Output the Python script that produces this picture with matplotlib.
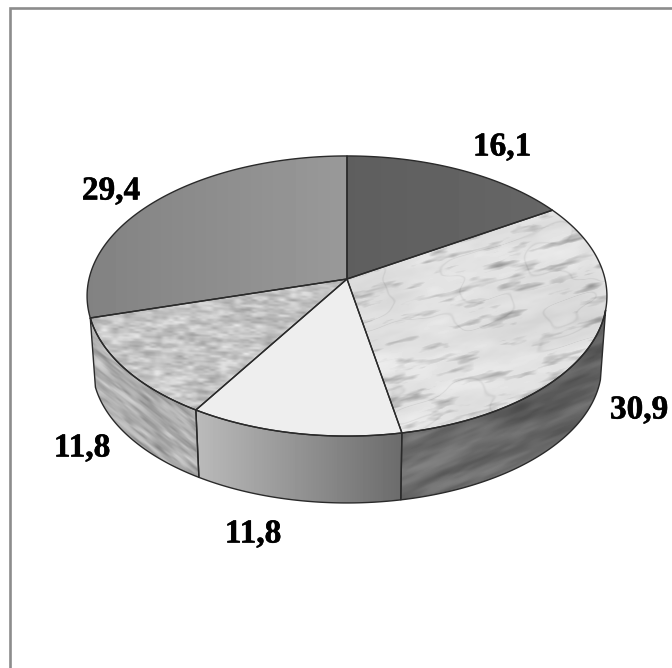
import numpy as np
import matplotlib
matplotlib.use('Agg')
import matplotlib.pyplot as plt
import matplotlib.patheffects as pe
from matplotlib.patches import Polygon

# -- chart data --
values = [16.1, 30.9, 11.8, 11.8, 29.4]
labels = ['16,1', '30,9', '11,8', '11,8', '29,4']
labelX = [502, 639, 253, 82, 111]
labelY = [147, 410, 534, 448, 191]

# -- geometry of the tilted disc, in pixels --
cx, cy = 347.0, 279.0
radX, radY = 258.0, 138.0
persp = 0.1215
depth = 70.0
shrink = 0.98
edgeColor = '#2a2a2a'

yGrid, xGrid = np.mgrid[0:668, 0:672].astype(float)


def project(theta, bottom=False):
    '''Angle clockwise from 12 o'clock to picture position, with perspective'''
    wVal = 1 + persp*np.cos(theta)
    xVal = radX*np.sin(theta)/wVal
    yVal = radY*np.cos(theta)/wVal
    if bottom:
        return cx + shrink*xVal, cy - shrink*yVal + depth
    return cx + xVal, cy - yVal


def top_poly(a0, a1):
    theta = np.linspace(a0, a1, 200)
    xVal, yVal = project(theta)
    return np.r_[[cx], xVal], np.r_[[cy], yVal]


def side_poly(a0, a1):
    theta = np.linspace(a0, a1, 200)
    xTop, yTop = project(theta)
    xBot, yBot = project(theta[::-1], bottom=True)
    return np.r_[xTop, xBot], np.r_[yTop, yBot]


def lattice(iVal, jVal, salt):
    '''Fixed pseudo values on an integer lattice, 0 to 1'''
    val = np.sin(iVal*12.9898 + jVal*78.233 + salt*37.719)*43758.5453
    return val - np.floor(val)


def mottle(rotDeg, cellAlong, cellAcross, salt=0.0, octaves=3):
    '''Smooth blotchy texture, roughly -1 to 1'''
    rot = np.deg2rad(rotDeg)
    uu = xGrid*np.cos(rot) + yGrid*np.sin(rot)
    vv = -xGrid*np.sin(rot) + yGrid*np.cos(rot)
    tex = np.zeros_like(uu)
    amp = 1.0
    for ind in range(octaves):
        su = uu/(cellAlong/2**ind) + 100
        sv = vv/(cellAcross/2**ind) + 100
        iu, iv = np.floor(su), np.floor(sv)
        fu, fv = su - iu, sv - iv
        fu = fu*fu*(3 - 2*fu)
        fv = fv*fv*(3 - 2*fv)
        low = lattice(iu, iv, salt + ind)*(1 - fu) + lattice(iu + 1, iv, salt + ind)*fu
        high = lattice(iu, iv + 1, salt + ind)*(1 - fu) + lattice(iu + 1, iv + 1, salt + ind)*fu
        tex += amp*(low*(1 - fv) + high*fv - 0.5)
        amp *= 0.55
    return tex/(0.5*np.abs(tex).max() + 0.25)


def draw_texture(ax, img, xVal, yVal):
    patch = Polygon(np.c_[xVal, yVal], closed=True, transform=ax.transData, fc='none', ec='none')
    ax.add_patch(patch)
    im = ax.imshow(img, cmap='gray', vmin=0, vmax=1, extent=(0, 672, 668, 0),
                   interpolation='bilinear', aspect='auto', zorder=2)
    im.set_clip_path(patch)


def draw_outline(ax, xVal, yVal, lw=1.0):
    ax.fill(xVal, yVal, fc='none', ec=edgeColor, lw=lw, zorder=4, joinstyle='round')


fig = plt.figure(figsize=(6.72, 6.68), dpi=100)
ax = fig.add_axes([0, 0, 1, 1])
ax.axis('off')

# -- slice limits from the values --
limits = 2*np.pi*np.r_[0, np.cumsum(values)]/np.sum(values)

# -- top face --
imgDark = 0.37 + 0.03*(xGrid - 347)/200
xVal, yVal = top_poly(limits[0], limits[1])
draw_texture(ax, imgDark, xVal, yVal)
draw_outline(ax, xVal, yVal)

# marble: soft clouds with short grey streaks, and a few faint veins
clouds = mottle(-14, 70, 22, 0.4, octaves=4)
streaks = mottle(-14, 28, 7, 1.9, octaves=3)
veins = mottle(-20, 60, 24, 2.6, octaves=2)
imgMarble = (0.885 + 0.05*clouds
             - 0.28*np.clip(-streaks - 0.2, 0, 1)
             - 0.05*np.exp(-(veins/0.04)**2))
xVal, yVal = top_poly(limits[1], limits[2])
draw_texture(ax, np.clip(imgMarble, 0, 1), xVal, yVal)
draw_outline(ax, xVal, yVal)

xVal, yVal = top_poly(limits[2], limits[3])
ax.fill(xVal, yVal, fc='#eeeeee', ec='none', zorder=2)
draw_outline(ax, xVal, yVal)

imgSpeck = 0.77 + 0.12*mottle(3, 11, 4, 0.9, octaves=2)
xVal, yVal = top_poly(limits[3], limits[4])
draw_texture(ax, imgSpeck, xVal, yVal)
draw_outline(ax, xVal, yVal)

imgGrad = 0.51 + 0.09*(xGrid - 88)/259
xVal, yVal = top_poly(limits[4], limits[5])
draw_texture(ax, imgGrad, xVal, yVal)
draw_outline(ax, xVal, yVal)

# -- visible rim, the right end turns with the perspective --
rimRight = np.arccos(-persp) + 0.1

imgRimDark = 0.4 + 0.1*mottle(-22, 55, 11, 2.7, octaves=3) + 0.03*(yGrid - 430)/70
xVal, yVal = side_poly(rimRight, limits[2])
draw_texture(ax, np.clip(imgRimDark, 0, 1), xVal, yVal)
draw_outline(ax, xVal, yVal)

imgRimGrad = 0.73 - 0.31*(xGrid - 197)/205
xVal, yVal = side_poly(limits[2], limits[3])
draw_texture(ax, imgRimGrad, xVal, yVal)
draw_outline(ax, xVal, yVal)

imgRimSpeck = 0.67 + 0.13*mottle(38, 20, 3.5, 4.2, octaves=2)
xVal, yVal = side_poly(limits[3], limits[4])
draw_texture(ax, np.clip(imgRimSpeck, 0, 1), xVal, yVal)
draw_outline(ax, xVal, yVal)

# -- value labels --
for label, xPos, yPos in zip(labels, labelX, labelY):
    txt = ax.text(xPos, yPos, label, family='Liberation Serif', weight='bold', fontsize=24,
                  ha='center', va='center', color='black', zorder=6)
    txt.set_path_effects([pe.withStroke(linewidth=0.4, foreground='black')])

# -- frame, only top and left are in the picture --
ax.plot([10, 10, 672], [668, 8, 8], color='#8c8c8c', lw=1.9, solid_joinstyle='miter', zorder=7)

ax.set_xlim(0, 672)
ax.set_ylim(668, 0)
fig.savefig('out.png', dpi=100)
